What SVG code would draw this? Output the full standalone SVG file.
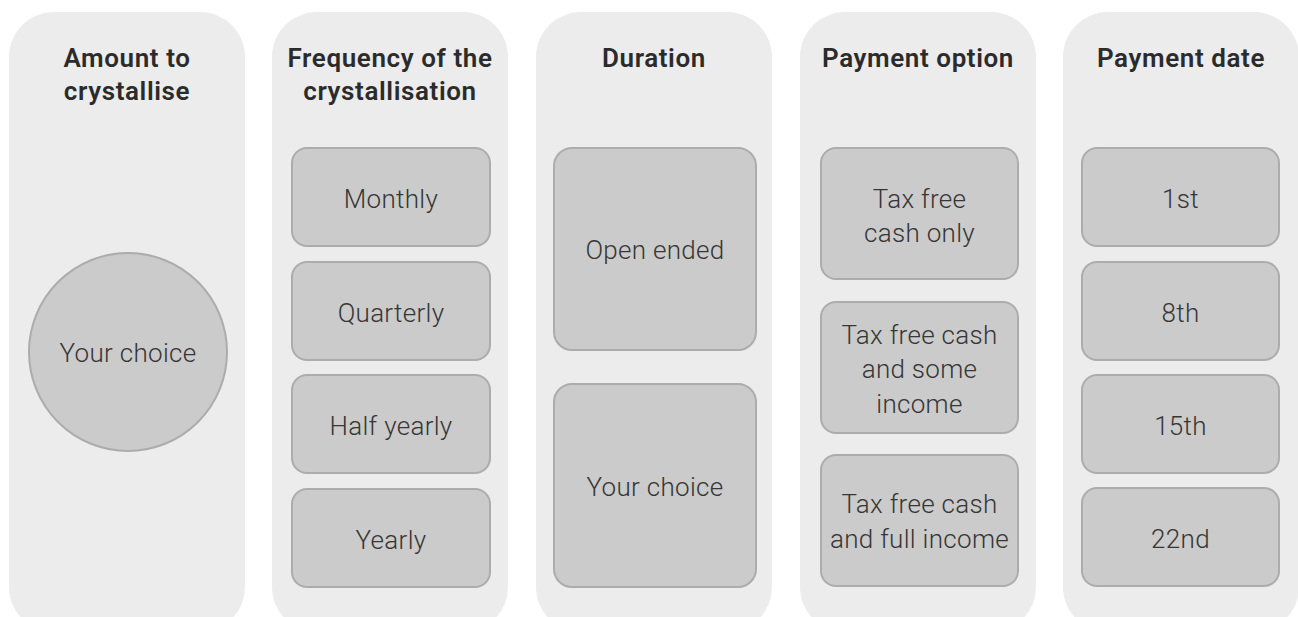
<svg xmlns="http://www.w3.org/2000/svg" width="1298" height="617" viewBox="0 0 1298 617">
<style>
.panel{fill:#ececec;}
.box{fill:#cbcbcb;stroke:#acacac;stroke-width:2;}
.title{font-family:Roboto,"Liberation Sans",sans-serif;font-weight:600;font-size:26px;letter-spacing:0.6px;fill:#2b2b2b;text-anchor:middle;}
.lbl{font-family:Roboto,"Liberation Sans",sans-serif;font-weight:300;font-size:26px;letter-spacing:0.3px;fill:#363636;text-anchor:middle;}
</style>
<rect width="1298" height="617" fill="#ffffff"/>
<g id="col-amount">
<rect class="panel" x="9" y="12" width="236" height="620" rx="45"/>
<text class="title" x="127" y="67">Amount to</text>
<text class="title" x="127" y="100">crystallise</text>
<g id="amount-your-choice">
<circle class="box" cx="128" cy="352" r="99"/>
<text class="lbl" x="128" y="362">Your choice</text>
</g>
</g>
<g id="col-frequency">
<rect class="panel" x="272" y="12" width="236" height="620" rx="45"/>
<text class="title" x="390" y="67">Frequency of the</text>
<text class="title" x="390" y="100">crystallisation</text>
<g id="freq-monthly"><rect class="box" x="292" y="148" width="198" height="98" rx="15"/><text class="lbl" x="391" y="208">Monthly</text></g>
<g id="freq-quarterly"><rect class="box" x="292" y="262" width="198" height="98" rx="15"/><text class="lbl" x="391" y="322">Quarterly</text></g>
<g id="freq-half-yearly"><rect class="box" x="292" y="375" width="198" height="98" rx="15"/><text class="lbl" x="391" y="435">Half yearly</text></g>
<g id="freq-yearly"><rect class="box" x="292" y="489" width="198" height="98" rx="15"/><text class="lbl" x="391" y="549">Yearly</text></g>
</g>
<g id="col-duration">
<rect class="panel" x="536" y="12" width="236" height="620" rx="45"/>
<text class="title" x="654" y="67">Duration</text>
<g id="dur-open-ended"><rect class="box" x="554" y="148" width="202" height="202" rx="18"/><text class="lbl" x="655" y="259">Open ended</text></g>
<g id="dur-your-choice"><rect class="box" x="554" y="384" width="202" height="203" rx="18"/><text class="lbl" x="655" y="496">Your choice</text></g>
</g>
<g id="col-payment-option">
<rect class="panel" x="800" y="12" width="236" height="620" rx="45"/>
<text class="title" x="918" y="67">Payment option</text>
<g id="opt-tfc-only"><rect class="box" x="821" y="148" width="197" height="131" rx="15"/><text class="lbl" x="919.5" y="208">Tax free</text><text class="lbl" x="919.5" y="242">cash only</text></g>
<g id="opt-tfc-some"><rect class="box" x="821" y="302" width="197" height="131" rx="15"/><text class="lbl" x="919.5" y="344">Tax free cash</text><text class="lbl" x="919.5" y="378">and some</text><text class="lbl" x="919.5" y="413">income</text></g>
<g id="opt-tfc-full"><rect class="box" x="821" y="455" width="197" height="131" rx="15"/><text class="lbl" x="919.5" y="513">Tax free cash</text><text class="lbl" x="919.5" y="548">and full income</text></g>
</g>
<g id="col-payment-date">
<rect class="panel" x="1063" y="12" width="236" height="620" rx="45"/>
<text class="title" x="1181" y="67">Payment date</text>
<g id="date-1st"><rect class="box" x="1082" y="148" width="197" height="98" rx="15"/><text class="lbl" x="1180.5" y="208">1st</text></g>
<g id="date-8th"><rect class="box" x="1082" y="262" width="197" height="98" rx="15"/><text class="lbl" x="1180.5" y="322">8th</text></g>
<g id="date-15th"><rect class="box" x="1082" y="375" width="197" height="98" rx="15"/><text class="lbl" x="1180.5" y="435">15th</text></g>
<g id="date-22nd"><rect class="box" x="1082" y="488" width="197" height="98" rx="15"/><text class="lbl" x="1180.5" y="548">22nd</text></g>
</g>
<g id="connectors"></g>
</svg>
